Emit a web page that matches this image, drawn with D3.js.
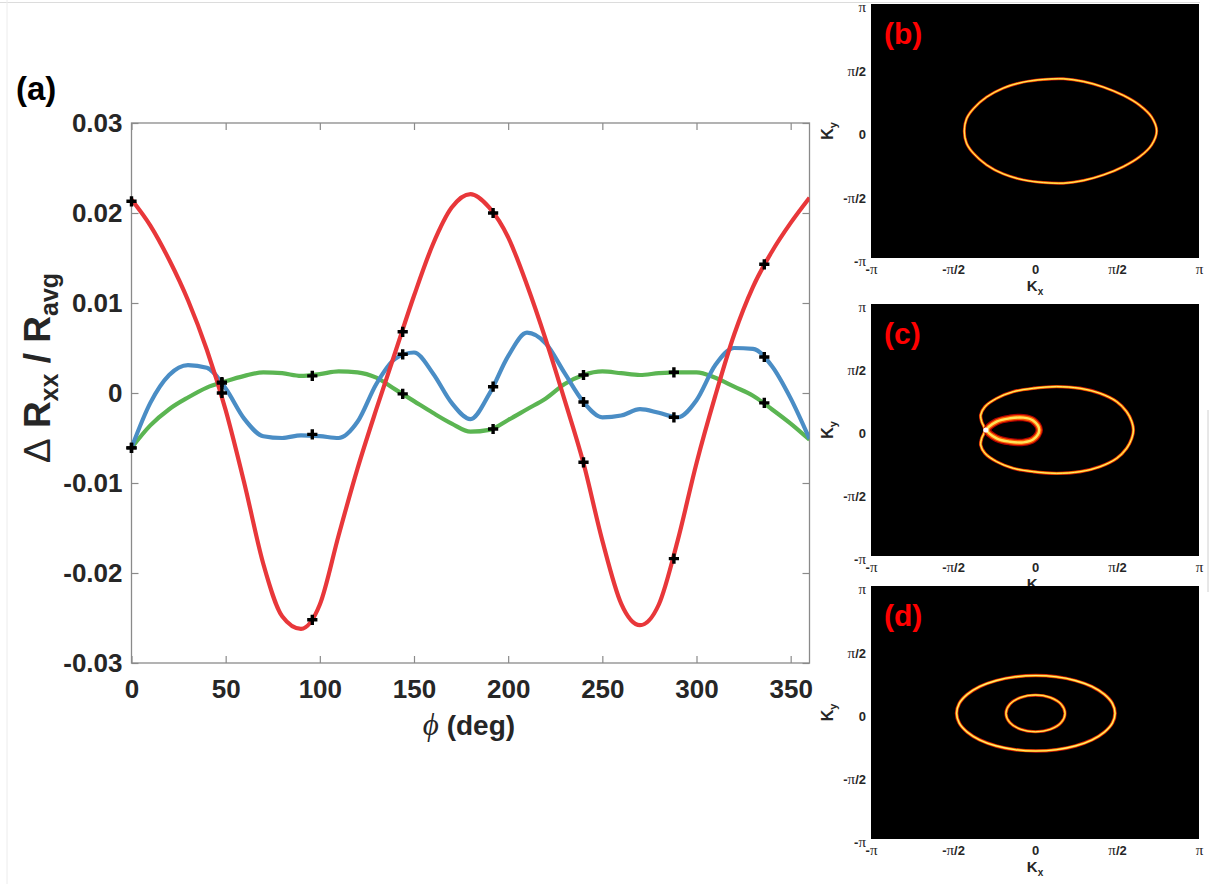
<!DOCTYPE html>
<html>
<head>
<meta charset="utf-8">
<script src="https://cdn.jsdelivr.net/npm/d3@7"></script>
<style>
  html, body { margin: 0; padding: 0; background: #fff; }
  svg { display: block; }
</style>
</head>
<body>
<svg id="fig" width="1210" height="884"></svg>
<script>
// ---------------- panel (a): angular dependence of the magnetoresistance ----------------
const phi = [0, 10, 20, 30, 40, 50, 60, 70, 80, 90, 100, 110, 120, 130, 140, 150, 160, 170, 180,
             190, 200, 210, 220, 230, 240, 250, 260, 270, 280, 290, 300, 310, 320, 330, 340, 350, 360];

const redCurve = [0.0215, 0.0186, 0.0148, 0.0103, 0.0048, -0.0019, -0.0101, -0.0190, -0.0248, -0.0262,
                  -0.0235, -0.0158, -0.0084, -0.0018, 0.0045, 0.0108, 0.0165, 0.0206, 0.0221,
                  0.0206, 0.0173, 0.0120, 0.0059, -0.0008, -0.0078, -0.0164, -0.0234, -0.0258,
                  -0.0235, -0.0164, -0.0078, -0.0003, 0.0065, 0.0118, 0.0157, 0.0189, 0.0217];

const blueCurve = [-0.0061, -0.0011, 0.0020, 0.0031, 0.0028, 0.0005, -0.0029, -0.0048, -0.0050, -0.0047,
                   -0.0048, -0.0050, -0.0032, 0.0010, 0.0038, 0.0045, 0.0022, -0.0011, -0.0029,
                   -0.0001, 0.0041, 0.0067, 0.0055, 0.0022, -0.0010, -0.0027, -0.0025, -0.0018,
                   -0.0022, -0.0027, -0.0008, 0.0031, 0.0050, 0.0049, 0.0030, -0.0006, -0.0051];

const greenCurve = [-0.0061, -0.0036, -0.0018, -0.0005, 0.0006, 0.0013, 0.0019, 0.0023, 0.0022, 0.0019,
                    0.0021, 0.0024, 0.0023, 0.0017, 0.0004, -0.0009, -0.0022, -0.0034, -0.0043,
                    -0.0041, -0.0030, -0.0018, -0.0006, 0.0010, 0.0020, 0.0024, 0.0022, 0.0020,
                    0.0022, 0.0023, 0.0023, 0.0017, 0.0007, -0.0003, -0.0018, -0.0034, -0.0052];

// measured points
const markerPhi = [0, 48, 96, 144, 192, 240, 288, 336];
const redPoints   = [0.0213, 0.0000, -0.0252, 0.0068, 0.0200, -0.0077, -0.0184, 0.0143];
const bluePoints  = [-0.0061, 0.0012, -0.0046, 0.0043, 0.0007, -0.0010, -0.0027, 0.0040];
const greenPoints = [-0.0061, 0.0011, 0.0019, -0.0001, -0.0040, 0.0020, 0.0023, -0.0011];

const xTicks = [0, 50, 100, 150, 200, 250, 300, 350];
const xTickLabels = ["0", "50", "100", "150", "200", "250", "300", "350"];
const yTicks = [-0.03, -0.02, -0.01, 0, 0.01, 0.02, 0.03];
const yTickLabels = ["-0.03", "-0.02", "-0.01", "0", "0.01", "0.02", "0.03"];

// ---------------- panels (b)-(d): Fermi contours in the Brillouin zone (units of pi) ----------------
const kTicks = [-1, -0.5, 0, 0.5, 1];
const kTickLabels = ["-π", "-π/2", "0", "π/2", "π"];

const contourB = [
  [-0.431, 0.000], [-0.417, 0.097], [-0.376, 0.175], [-0.295, 0.267], [-0.193, 0.338], [-0.071, 0.385],
  [0.051, 0.406], [0.173, 0.411], [0.295, 0.390], [0.417, 0.346], [0.539, 0.280], [0.640, 0.201],
  [0.711, 0.110], [0.742, 0.000], [0.711, -0.110], [0.640, -0.201], [0.539, -0.280], [0.417, -0.346],
  [0.295, -0.390], [0.173, -0.411], [0.051, -0.406], [-0.071, -0.385], [-0.193, -0.338], [-0.295, -0.267],
  [-0.376, -0.175], [-0.417, -0.097]
];

const contourCOuter = [
  [-0.305, 0.000], [-0.325, 0.066], [-0.331, 0.119], [-0.305, 0.185], [-0.234, 0.251], [-0.132, 0.304],
  [-0.010, 0.331], [0.132, 0.344], [0.274, 0.331], [0.396, 0.291], [0.498, 0.225], [0.559, 0.145],
  [0.590, 0.066], [0.600, 0.000], [0.590, -0.066], [0.559, -0.145], [0.498, -0.225], [0.396, -0.291],
  [0.274, -0.331], [0.132, -0.344], [-0.010, -0.331], [-0.132, -0.304], [-0.234, -0.251], [-0.305, -0.185],
  [-0.331, -0.119], [-0.325, -0.066]
];

const contourCInner = [
  [-0.292, 0.000], [-0.234, 0.066], [-0.152, 0.093], [-0.071, 0.098], [-0.010, 0.074], [0.026, 0.000],
  [-0.010, -0.074], [-0.071, -0.098], [-0.152, -0.093], [-0.234, -0.066]
];
const cuspC = [-0.300, 0.000];

const contourDOuter = [
  [0.488, -0.006], [0.472, 0.071], [0.423, 0.143], [0.347, 0.205], [0.247, 0.252], [0.130, 0.282],
  [0.005, 0.292], [-0.120, 0.282], [-0.237, 0.252], [-0.337, 0.205], [-0.413, 0.143], [-0.462, 0.071],
  [-0.478, -0.006], [-0.462, -0.083], [-0.413, -0.155], [-0.337, -0.217], [-0.237, -0.264], [-0.120, -0.294],
  [0.005, -0.304], [0.130, -0.294], [0.247, -0.264], [0.347, -0.217], [0.423, -0.155], [0.472, -0.083]
];

const contourDInner = [
  [0.183, -0.007], [0.159, 0.066], [0.093, 0.119], [0.003, 0.138], [-0.087, 0.119], [-0.153, 0.066],
  [-0.177, -0.007], [-0.153, -0.080], [-0.087, -0.133], [0.003, -0.152], [0.093, -0.133], [0.159, -0.080]
];

// ---------------- drawing ----------------
const svg = d3.select("#fig");
const SANS = "'Liberation Sans', Arial, Helvetica, sans-serif";
const SERIF = "'Liberation Serif', 'DejaVu Serif', 'Times New Roman', serif";
const axisColor = "#8a8a8a";
const textColor = "#262626";

svg.append("rect").attr("width", 1210).attr("height", 884).attr("fill", "#fff");

// thin frame lines around the composite figure
svg.append("line").attr("x1", 0).attr("x2", 1200).attr("y1", 2.5).attr("y2", 2.5)
  .attr("stroke", "#dcdcdc").attr("stroke-width", 1);
svg.append("line").attr("x1", 7).attr("x2", 7).attr("y1", 0).attr("y2", 884)
  .attr("stroke", "#ececec").attr("stroke-width", 1);
svg.append("line").attr("x1", 1208).attr("x2", 1208).attr("y1", 410).attr("y2", 592)
  .attr("stroke", "#d0d0d0").attr("stroke-width", 1);

const plot = { left: 131.5, right: 809.5, top: 123, bottom: 663 };
const x = d3.scaleLinear().domain([0, 360]).range([plot.left, plot.right]);
const y = d3.scaleLinear().domain([-0.03, 0.03]).range([plot.bottom, plot.top]);

function styleAxis(g, fontSize) {
  g.select(".domain").remove();
  g.selectAll(".tick line").attr("stroke", axisColor).attr("stroke-width", 1.2);
  g.selectAll(".tick text").attr("fill", textColor).attr("font-family", SANS)
    .attr("font-weight", "bold").attr("font-size", fontSize);
}

const gxB = svg.append("g").attr("transform", `translate(0,${plot.bottom})`)
  .call(d3.axisBottom(x).tickValues(xTicks).tickFormat((d, i) => xTickLabels[i])
    .tickSizeInner(-7).tickSizeOuter(0).tickPadding(17));
styleAxis(gxB, 26);

const gxT = svg.append("g").attr("transform", `translate(0,${plot.top})`)
  .call(d3.axisTop(x).tickValues(xTicks).tickFormat("").tickSizeInner(-7).tickSizeOuter(0));
styleAxis(gxT, 26);

const gyL = svg.append("g").attr("transform", `translate(${plot.left},0)`)
  .call(d3.axisLeft(y).tickValues(yTicks).tickFormat((d, i) => yTickLabels[i])
    .tickSizeInner(-7).tickSizeOuter(0).tickPadding(9));
styleAxis(gyL, 26);

const gyR = svg.append("g").attr("transform", `translate(${plot.right},0)`)
  .call(d3.axisRight(y).tickValues(yTicks).tickFormat("").tickSizeInner(-7).tickSizeOuter(0));
styleAxis(gyR, 26);

svg.append("rect").attr("x", plot.left).attr("y", plot.top)
  .attr("width", plot.right - plot.left).attr("height", plot.bottom - plot.top)
  .attr("fill", "none").attr("stroke", axisColor).attr("stroke-width", 1.3);

svg.append("clipPath").attr("id", "plotClip").append("rect")
  .attr("x", plot.left).attr("y", plot.top)
  .attr("width", plot.right - plot.left).attr("height", plot.bottom - plot.top);

const line = d3.line().x((d, i) => x(phi[i])).y(d => y(d)).curve(d3.curveMonotoneX);
const curves = svg.append("g").attr("clip-path", "url(#plotClip)");
[[greenCurve, "#5bb552"], [blueCurve, "#4a8dc5"], [redCurve, "#e8373a"]].forEach(([vals, col]) => {
  curves.append("path").attr("d", line(vals)).attr("fill", "none")
    .attr("stroke", col).attr("stroke-width", 4.2).attr("stroke-linejoin", "round");
});

const cross = d3.symbol().type(d3.symbolCross).size(58);
const markers = svg.append("g");
[redPoints, bluePoints, greenPoints].forEach(vals => {
  markers.selectAll(null).data(vals).enter().append("path")
    .attr("d", cross)
    .attr("transform", (d, i) => `translate(${x(markerPhi[i])},${y(d)})`)
    .attr("fill", "#000");
});

// axis titles
const yLab = svg.append("text")
  .attr("transform", "translate(50,368) rotate(-90)")
  .attr("text-anchor", "middle").attr("font-family", SANS).attr("font-size", 37)
  .attr("font-weight", "bold").attr("fill", textColor);
yLab.append("tspan").attr("font-weight", "normal").text("Δ");
yLab.append("tspan").text(" R");
yLab.append("tspan").attr("font-size", 25).attr("dy", 8).text("xx");
yLab.append("tspan").attr("dy", -8).text(" / R");
yLab.append("tspan").attr("font-size", 25).attr("dy", 8).text("avg");

const xLab = svg.append("text").attr("x", 469).attr("y", 735)
  .attr("text-anchor", "middle").attr("font-family", SANS).attr("font-size", 28)
  .attr("font-weight", "bold").attr("fill", textColor);
xLab.append("tspan").attr("font-family", SERIF).attr("font-style", "italic")
  .attr("font-weight", "normal").attr("font-size", 31).text("ϕ");
xLab.append("tspan").text(" (deg)");

svg.append("text").attr("x", 16).attr("y", 100).attr("font-family", SANS)
  .attr("font-size", 33).attr("font-weight", "bold").attr("fill", "#000").text("(a)");

// ---------------- Brillouin zone panels ----------------
function piLabels(sel, size) {
  sel.each(function () {
    const t = d3.select(this);
    const s = t.text();
    t.text(null);
    s.split(/(π)/).filter(p => p.length).forEach(p => {
      const ts = t.append("tspan").text(p);
      if (p === "π") ts.attr("font-family", SERIF).attr("font-weight", "normal").attr("font-size", size + 2);
    });
  });
}

function ringLayers(g, path, widths, colors) {
  widths.forEach((w, i) => {
    g.append("path").attr("d", path).attr("fill", "none")
      .attr("stroke", colors[i]).attr("stroke-width", w).attr("stroke-linejoin", "round");
  });
}

const thinRing = ["#c8140a", "#ffa000", "#fff07a"];
const panels = [
  { y0: 4, y1: 258, label: "(b)",
    rings: [{ pts: contourB, w: [3.0, 1.9, 0.9], c: thinRing }] },
  { y0: 304, y1: 556, label: "(c)",
    rings: [{ pts: contourCOuter, w: [3.4, 2.2, 1.0], c: thinRing },
            { pts: contourCInner, w: [7.5, 5.0, 2.4], c: ["#b00000", "#ff5a00", "#ffe45a"] }],
    dot: cuspC },
  { y0: 586, y1: 839, label: "(d)",
    rings: [{ pts: contourDOuter, w: [3.6, 2.3, 1.1], c: thinRing },
            { pts: contourDInner, w: [3.2, 2.0, 0.9], c: thinRing }] }
];

panels.forEach(p => {
  const kx = d3.scaleLinear().domain([-1, 1]).range([871, 1199]);
  const ky = d3.scaleLinear().domain([-1, 1]).range([p.y1, p.y0]);
  const g = svg.append("g");

  g.append("rect").attr("x", 871).attr("y", p.y0).attr("width", 328).attr("height", p.y1 - p.y0)
    .attr("fill", "#000");

  const ax = g.append("g").attr("transform", `translate(0,${p.y1})`)
    .call(d3.axisBottom(kx).tickValues(kTicks).tickFormat((d, i) => kTickLabels[i])
      .tickSize(0).tickPadding(7));
  styleAxis(ax, 13);
  piLabels(ax.selectAll(".tick text"), 13);

  const ay = g.append("g").attr("transform", "translate(871,0)")
    .call(d3.axisLeft(ky).tickValues(kTicks).tickFormat((d, i) => kTickLabels[i])
      .tickSize(0).tickPadding(5));
  styleAxis(ay, 13);
  ay.selectAll(".tick text").attr("dy", "0.6em");
  piLabels(ay.selectAll(".tick text"), 13);

  const kxLab = g.append("text").attr("x", kx(0)).attr("y", p.y1 + 33)
    .attr("text-anchor", "middle").attr("font-family", SANS).attr("font-size", 15)
    .attr("font-weight", "bold").attr("fill", textColor);
  kxLab.append("tspan").text("K");
  kxLab.append("tspan").attr("font-size", 10).attr("dy", 4).text("x");

  const kyLab = g.append("text").attr("transform", `translate(833,${ky(0)}) rotate(-90)`)
    .attr("text-anchor", "middle").attr("font-family", SANS).attr("font-size", 16)
    .attr("font-weight", "bold").attr("fill", textColor);
  kyLab.append("tspan").text("K");
  kyLab.append("tspan").attr("font-size", 11).attr("dy", 4).text("y");

  const ringLine = d3.line().x(d => kx(d[0])).y(d => ky(d[1])).curve(d3.curveCatmullRomClosed.alpha(0.5));
  p.rings.forEach(r => ringLayers(g, ringLine(r.pts), r.w, r.c));
  if (p.dot) {
    g.append("circle").attr("cx", kx(p.dot[0])).attr("cy", ky(p.dot[1])).attr("r", 2.6).attr("fill", "#fff");
  }

  g.append("text").attr("x", 884).attr("y", p.y0 + 40).attr("font-family", SANS)
    .attr("font-size", 30).attr("font-weight", "bold").attr("fill", "#ff0000").text(p.label);
});
</script>
</body>
</html>
